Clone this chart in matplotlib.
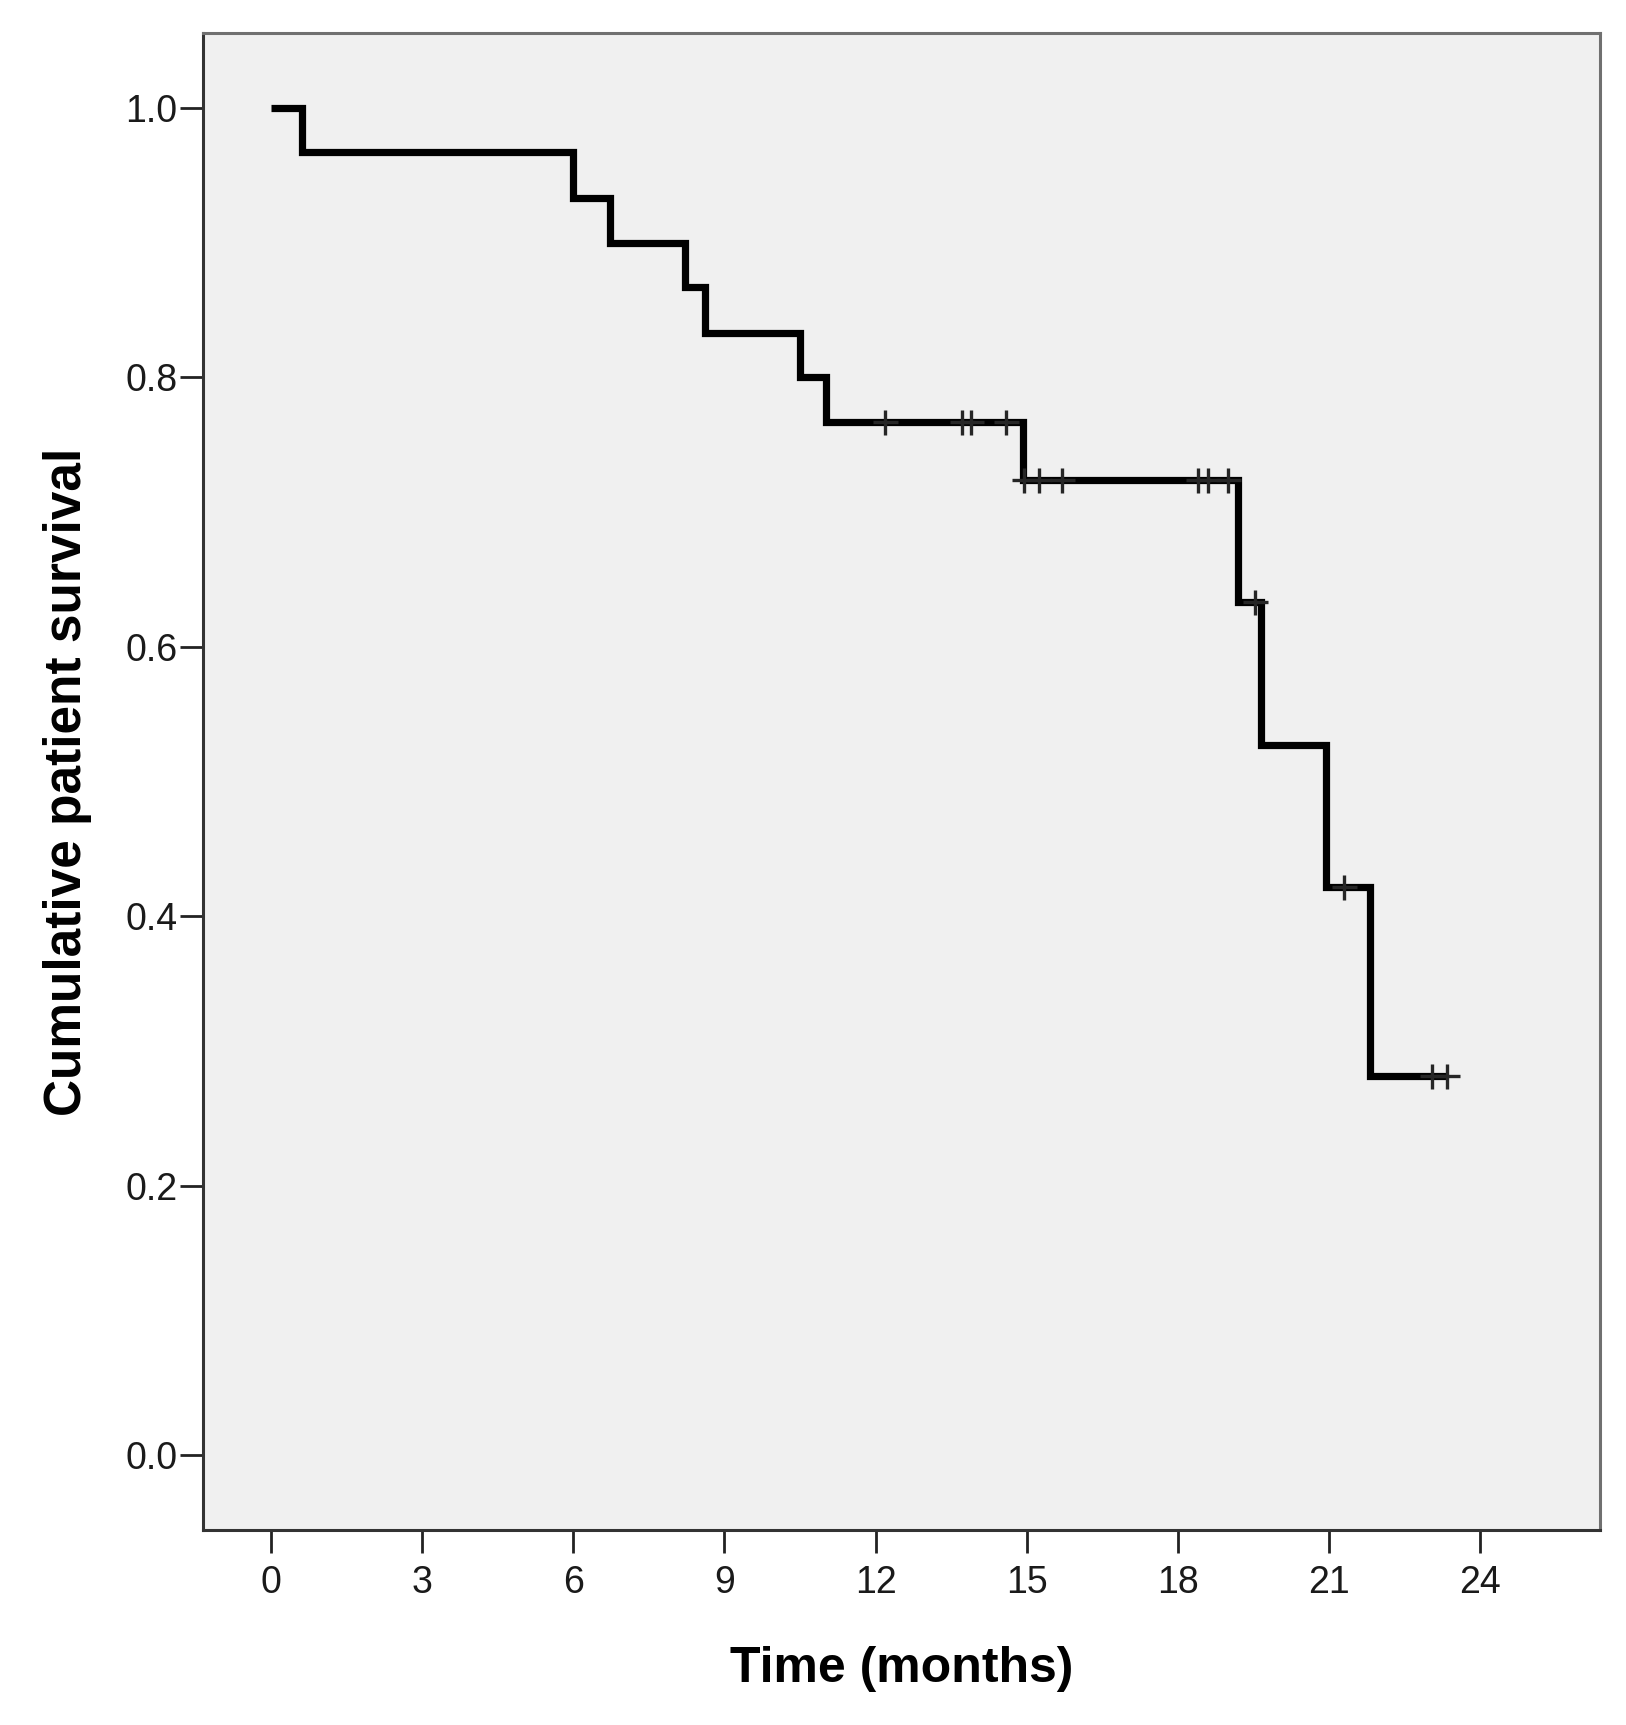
import numpy as np
import matplotlib.pyplot as plt

# Kaplan-Meier estimate
event_time = [0.0, 0.62, 6.0, 6.72, 8.22, 8.62, 10.5, 11.02, 14.92, 19.19, 19.65, 20.94, 21.82]
survival = [1.0, 0.967, 0.933, 0.900, 0.867, 0.833, 0.800, 0.767, 0.724, 0.633, 0.527, 0.422, 0.281]
last_followup = 23.35

# censored cases
censor_time = [12.18, 13.71, 13.89, 14.58, 14.95, 15.24, 15.69,
               18.39, 18.60, 18.99, 19.52, 21.30, 23.04, 23.35]

x_ticks = [0, 3, 6, 9, 12, 15, 18, 21, 24]
y_ticks = [0.0, 0.2, 0.4, 0.6, 0.8, 1.0]

plt.rcParams['font.family'] = ['Liberation Sans', 'DejaVu Sans']

fig = plt.figure(figsize=(16.26, 17.25), dpi=100)
ax = fig.add_axes([0.1248, 0.113, 0.859, 0.868])
ax.set_facecolor('#f0f0f0')

xs = np.append(event_time, last_followup)
ys = np.append(survival, survival[-1])
ax.step(xs, ys, where='post', color='black', lw=5.2,
        solid_joinstyle='miter', solid_capstyle='butt', zorder=3)

# survival level at each censored time
idx = np.searchsorted(event_time, censor_time, side='right') - 1
cens_y = np.array(survival)[idx]
ax.plot(censor_time, cens_y, ls='none', marker='+', ms=18, mew=2.4,
        color='#262626', zorder=4)

ax.set_xlim(-1.35, 26.37)
ax.set_ylim(-0.0557, 1.0557)
ax.set_xticks(x_ticks)
ax.set_yticks(y_ticks)
ax.set_yticklabels([f'{v:.1f}' for v in y_ticks])

ax.tick_params(axis='both', length=16.5, width=2, color='#222222',
               labelsize=27, labelcolor='#1a1a1a')
ax.tick_params(axis='x', pad=9)
ax.tick_params(axis='y', pad=2)

for side in ['left', 'bottom']:
    ax.spines[side].set_color('#333333')
    ax.spines[side].set_linewidth(2.2)
for side in ['right', 'top']:
    ax.spines[side].set_color('#707070')
    ax.spines[side].set_linewidth(2.2)

ax.set_xlabel('Time (months)', fontsize=36, fontweight='bold', labelpad=32)
ax.set_ylabel('Cumulative patient survival', fontsize=37, fontweight='bold', labelpad=24)

plt.savefig('out.png', dpi=100)
